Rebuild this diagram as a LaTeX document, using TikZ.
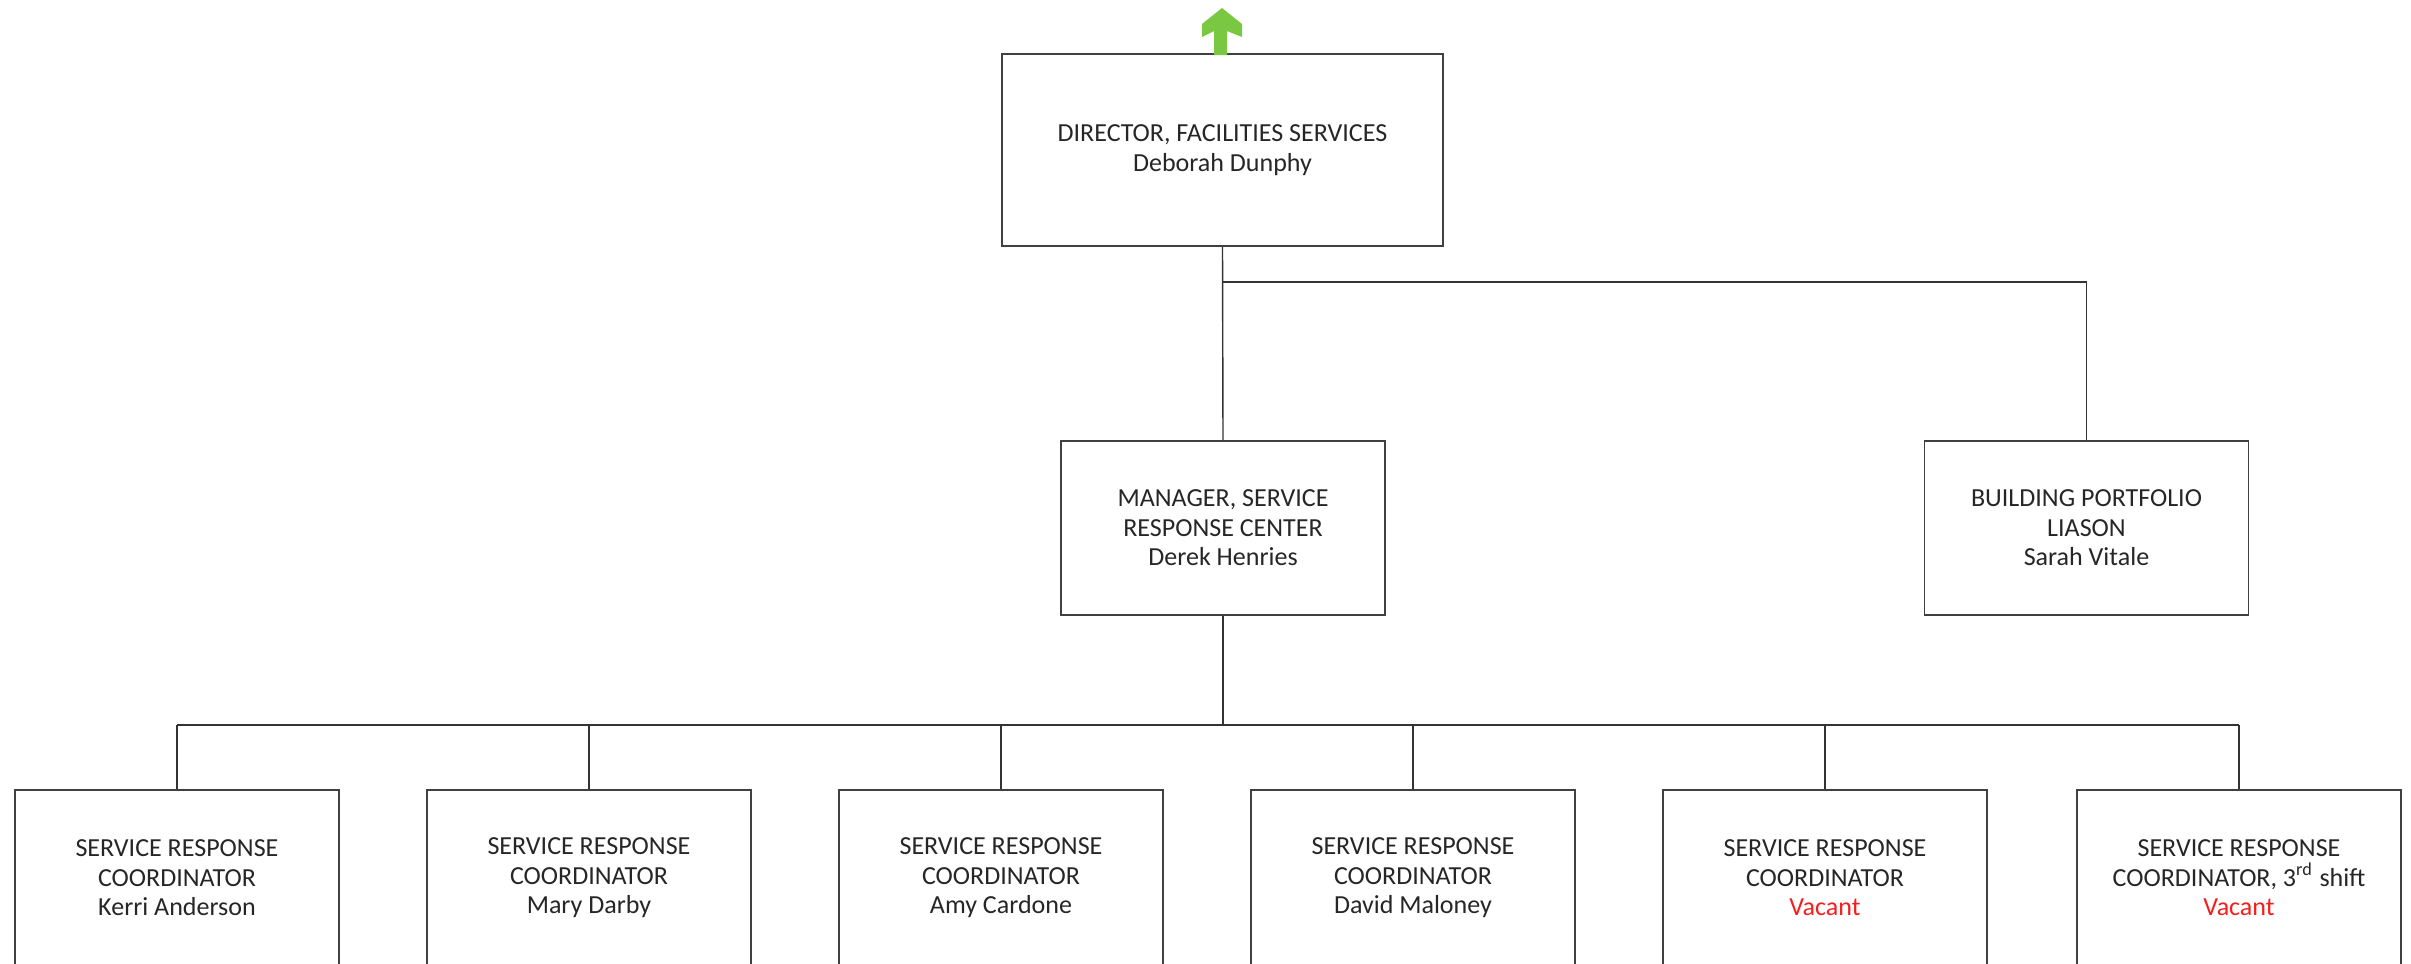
\documentclass[tikz,border=0pt]{standalone}
\usepackage{fontspec}
\setmainfont{Carlito}
\usepackage{xcolor}
\usetikzlibrary{positioning,calc}
\definecolor{arrowgreen}{RGB}{122,200,65}
\definecolor{vacantred}{RGB}{245,30,30}
\definecolor{inkgray}{RGB}{38,38,38}
\tikzset{
	post/.style={draw=black!75, line width=0.4pt, rectangle, align=center,
		inner sep=2pt, text=inkgray, font=\fontsize{7.4}{8.4}\selectfont},
	link/.style={black!80, line width=0.4pt},
}

\begin{document}
\begin{tikzpicture}[x=0.01cm, y=-0.01cm]
            \useasboundingbox (0, 0) rectangle (2411, 963);

            \node[post, minimum width=4.41cm, minimum height=1.92cm] (dir) at (1222.5, 150) {DIRECTOR, FACILITIES SERVICES\\Deborah Dunphy};
            \node[post, minimum width=3.24cm, minimum height=1.74cm] (mgr) at (1223, 528) {MANAGER, SERVICE\\RESPONSE CENTER\\Derek Henries};
            \node[post, minimum width=3.24cm, minimum height=1.74cm] (lia) at (2086.5, 528) {BUILDING PORTFOLIO\\LIASON\\Sarah Vitale};

            \begin{scope}[every node/.style={post, minimum width=3.24cm, minimum height=1.76cm}]
                \node (src1) at (177, 878) {SERVICE RESPONSE\\COORDINATOR\\Kerri Anderson};
                \node (src2) at (589, 878) {SERVICE RESPONSE\\COORDINATOR\\Mary Darby};
                \node (src3) at (1001, 878) {SERVICE RESPONSE\\COORDINATOR\\Amy Cardone};
                \node (src4) at (1413, 878) {SERVICE RESPONSE\\COORDINATOR\\David Maloney};
                \node (src5) at (1825, 878) {SERVICE RESPONSE\\COORDINATOR\\\textcolor{vacantred}{Vacant}};
                \node (src6) at (2239, 878) {SERVICE RESPONSE\\COORDINATOR, 3\textsuperscript{rd} shift\\\textcolor{vacantred}{Vacant}};
            \end{scope}

            \coordinate (bus1) at (0, 282);
            \coordinate (bus2) at (0, 725);

            \draw[link] (dir.south) -- (mgr.north);
            \draw[link] (dir.south |- bus1) -| (lia.north);
            \draw[link] (mgr.south) -- (mgr.south |- bus2);
            \draw[link] (src1.north |- bus2) -- (src6.north |- bus2);
            \foreach \n in {1,...,6}
                \draw[link] (src\n.north) -- (src\n.north |- bus2);

            \fill[arrowgreen] (1222, 8) -- (1242, 24) -- (1242, 37) -- (1227, 31) -- (1227, 55)
                -- (1214, 55) -- (1214, 31) -- (1202, 37) -- (1202, 24) -- cycle;
        \end{tikzpicture}
\end{document}
